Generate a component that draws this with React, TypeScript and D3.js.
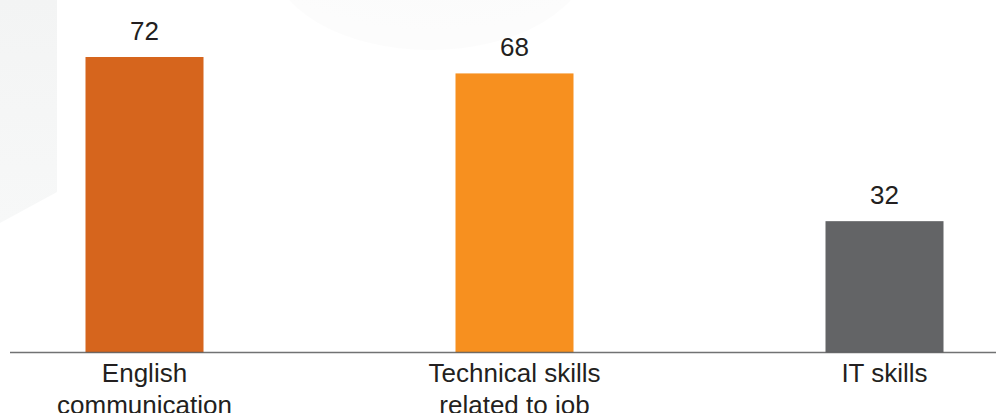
import React from "react";
import * as d3 from "d3";

const categories: string[][] = [
  ["English", "communication"],
  ["Technical skills", "related to job"],
  ["IT skills"],
];
const values: number[] = [72, 68, 32];
const colors: string[] = ["#D6651D", "#F7901F", "#636466"];

const W = 996;
const H = 413;
const baseY = 352.5;

export default function App() {
  const keys = categories.map((c) => c.join(" "));
  const x = d3.scalePoint<string>().domain(keys).range([144.5, 884.5]);
  const y = d3.scaleLinear().domain([0, 72]).range([baseY, 57]);
  const barW = 118;
  const font = "'Liberation Sans', Arial, Helvetica, sans-serif";

  return (
    <svg
      width={W}
      height={H}
      style={{ position: "absolute", left: 0, top: 0, background: "#ffffff" }}
    >
      <defs>
        <linearGradient id="lg" x1="0" y1="0" x2="0" y2="1">
          <stop offset="0" stopColor="#f3f4f4" />
          <stop offset="1" stopColor="#f7f8f8" />
        </linearGradient>
        <radialGradient id="rg" cx="0.5" cy="0.2" r="0.7">
          <stop offset="0" stopColor="#f8f9f9" />
          <stop offset="1" stopColor="#fcfcfc" />
        </radialGradient>
      </defs>
      <path d="M0,0 L57,0 L57,192 L0,223 Z" fill="url(#lg)" />
      <ellipse cx={430} cy={-45} rx={160} ry={95} fill="url(#rg)" />
      {values.map((v, i) => (
        <rect
          key={keys[i]}
          x={(x(keys[i]) as number) - barW / 2}
          y={y(v)}
          width={barW}
          height={baseY - y(v)}
          fill={colors[i]}
        />
      ))}
      <line
        x1={10}
        x2={W}
        y1={baseY}
        y2={baseY}
        stroke="#58595b"
        strokeOpacity={0.85}
        strokeWidth={1.6}
      />
      {values.map((v, i) => (
        <text
          key={"v" + i}
          x={x(keys[i]) as number}
          y={y(v) - 17}
          textAnchor="middle"
          fontFamily={font}
          fontSize={26}
          fill="#231f20"
        >
          {v}
        </text>
      ))}
      {categories.map((lines, i) => (
        <text
          key={"c" + i}
          textAnchor="middle"
          fontFamily={font}
          fontSize={26}
          fill="#231f20"
        >
          {lines.map((l, j) => (
            <tspan key={j} x={x(keys[i]) as number} y={382 + j * 31.5}>
              {l}
            </tspan>
          ))}
        </text>
      ))}
    </svg>
  );
}
